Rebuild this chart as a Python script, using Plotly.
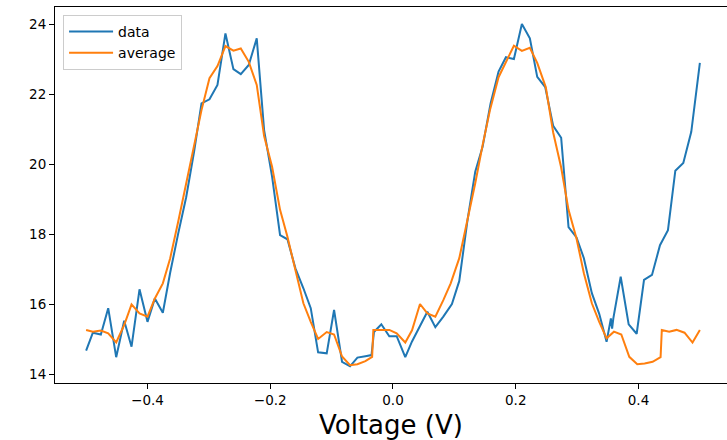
import plotly.graph_objects as go

# ---- data ----
voltage_data = [
    -0.500, -0.489, -0.476, -0.464, -0.451, -0.438, -0.426, -0.413, -0.400, -0.388,
    -0.375, -0.363, -0.350, -0.337, -0.324, -0.312, -0.299, -0.286, -0.273, -0.260,
    -0.248, -0.235, -0.222, -0.210, -0.197, -0.184, -0.172, -0.159, -0.146, -0.134,
    -0.122, -0.108, -0.096, -0.083, -0.070, -0.058, -0.045, -0.035, -0.031, -0.019,
    -0.006, 0.006, 0.020, 0.031, 0.044, 0.056, 0.069, 0.082, 0.096, 0.108,
    0.121, 0.134, 0.146, 0.159, 0.172, 0.184, 0.197, 0.210, 0.223, 0.235,
    0.248, 0.261, 0.274, 0.286, 0.299, 0.311, 0.324, 0.336, 0.348, 0.355,
    0.357, 0.359, 0.371, 0.384, 0.397, 0.409, 0.422, 0.435, 0.448, 0.460,
    0.473, 0.486, 0.500,
]
current_data = [
    14.67, 15.18, 15.13, 15.88, 14.48, 15.52, 14.78, 16.42, 15.49, 16.16,
    15.75, 16.90, 18.01, 19.05, 20.36, 21.73, 21.85, 22.26, 23.73, 22.71,
    22.57, 22.83, 23.59, 20.97, 19.64, 17.97, 17.85, 17.02, 16.45, 15.88,
    14.62, 14.59, 15.83, 14.35, 14.22, 14.47, 14.51, 14.54, 15.20, 15.42,
    15.08, 15.08, 14.48, 14.93, 15.37, 15.78, 15.34, 15.64, 16.00, 16.66,
    18.35, 19.78, 20.49, 21.73, 22.64, 23.05, 23.00, 24.00, 23.59, 22.49,
    22.20, 21.09, 20.75, 18.20, 17.90, 17.31, 16.31, 15.72, 14.92, 15.59,
    15.30, 15.59, 16.78, 15.42, 15.15, 16.69, 16.83, 17.68, 18.11, 19.81,
    20.03, 20.92, 22.89,
]

voltage_avg = [
    -0.500, -0.489, -0.476, -0.464, -0.451, -0.438, -0.426, -0.413, -0.400, -0.388,
    -0.375, -0.363, -0.350, -0.337, -0.324, -0.312, -0.299, -0.286, -0.273, -0.260,
    -0.248, -0.235, -0.222, -0.210, -0.197, -0.184, -0.172, -0.159, -0.146, -0.134,
    -0.122, -0.108, -0.096, -0.083, -0.070, -0.058, -0.045, -0.034,
    -0.032, -0.019, -0.006, 0.006, 0.020, 0.031, 0.044, 0.056, 0.069, 0.082,
    0.094, 0.108, 0.121, 0.134, 0.146, 0.158, 0.172, 0.184, 0.197, 0.210,
    0.223, 0.235, 0.249, 0.261, 0.274, 0.286, 0.299, 0.311, 0.324, 0.336,
    0.348, 0.360, 0.372, 0.385, 0.398, 0.410, 0.423, 0.436,
    0.438, 0.450, 0.462, 0.475, 0.488, 0.500,
]
current_avg = [
    15.26, 15.21, 15.24, 15.16, 14.90, 15.40, 15.99, 15.73, 15.64, 16.16,
    16.59, 17.31, 18.35, 19.45, 20.54, 21.54, 22.45, 22.80, 23.37, 23.24,
    23.30, 22.92, 22.26, 20.80, 19.92, 18.69, 17.92, 16.97, 16.02, 15.49,
    15.00, 15.20, 15.13, 14.50, 14.25, 14.28, 14.37, 14.49,
    15.26, 15.26, 15.26, 15.16, 14.90, 15.25, 16.00, 15.73, 15.64, 16.11,
    16.59, 17.31, 18.35, 19.45, 20.54, 21.54, 22.48, 22.92, 23.38, 23.23,
    23.32, 22.89, 22.19, 20.90, 19.90, 18.69, 17.87, 16.88, 16.02, 15.49,
    15.02, 15.21, 15.13, 14.49, 14.28, 14.30, 14.35, 14.48,
    15.26, 15.21, 15.26, 15.18, 14.90, 15.26,
]

x_ticks = [-0.4, -0.2, 0.0, 0.2, 0.4]
y_ticks = [14, 16, 18, 20, 22, 24]

FONT = "DejaVu Sans"

fig = go.Figure()
fig.add_trace(go.Scatter(x=voltage_data, y=current_data, mode="lines", name="data",
                         line=dict(color="#1f77b4", width=2)))
fig.add_trace(go.Scatter(x=voltage_avg, y=current_avg, mode="lines", name="average",
                         line=dict(color="#ff7f0e", width=2)))

fig.update_layout(
    width=727, height=440,
    margin=dict(l=55, r=0, t=7, b=57, autoexpand=False),
    paper_bgcolor="white", plot_bgcolor="white",
    font=dict(family=FONT, size=13.5, color="black"),
    showlegend=True,
    legend=dict(x=0.012, y=0.979, xanchor="left", yanchor="top", itemwidth=44,
                bgcolor="rgba(255,255,255,0.8)", bordercolor="#cccccc", borderwidth=1,
                font=dict(family=FONT, size=14, color="black")),
    annotations=[dict(text="Voltage (V)", x=0.5, xref="paper", y=-0.066, yref="paper",
                      xanchor="center", yanchor="top", showarrow=False,
                      font=dict(family=FONT, size=26, color="black"))],
)
fig.update_xaxes(range=[-0.5507, 0.5442], tickvals=x_ticks, tickformat=".1f",
                 showgrid=False, zeroline=False, showline=True, linecolor="black",
                 linewidth=1, mirror=True, ticks="outside", ticklen=5, tickwidth=1,
                 tickcolor="black")
fig.update_yaxes(range=[13.743, 24.486], tickvals=y_ticks, tickformat="d",
                 showgrid=False, zeroline=False, showline=True, linecolor="black",
                 linewidth=1, mirror=False, ticks="outside", ticklen=5, tickwidth=1,
                 tickcolor="black")

fig.write_html(
    "out.html",
    config={"displayModeBar": False},
    post_script="document.body.style.margin='0';document.body.style.overflow='hidden';",
)
